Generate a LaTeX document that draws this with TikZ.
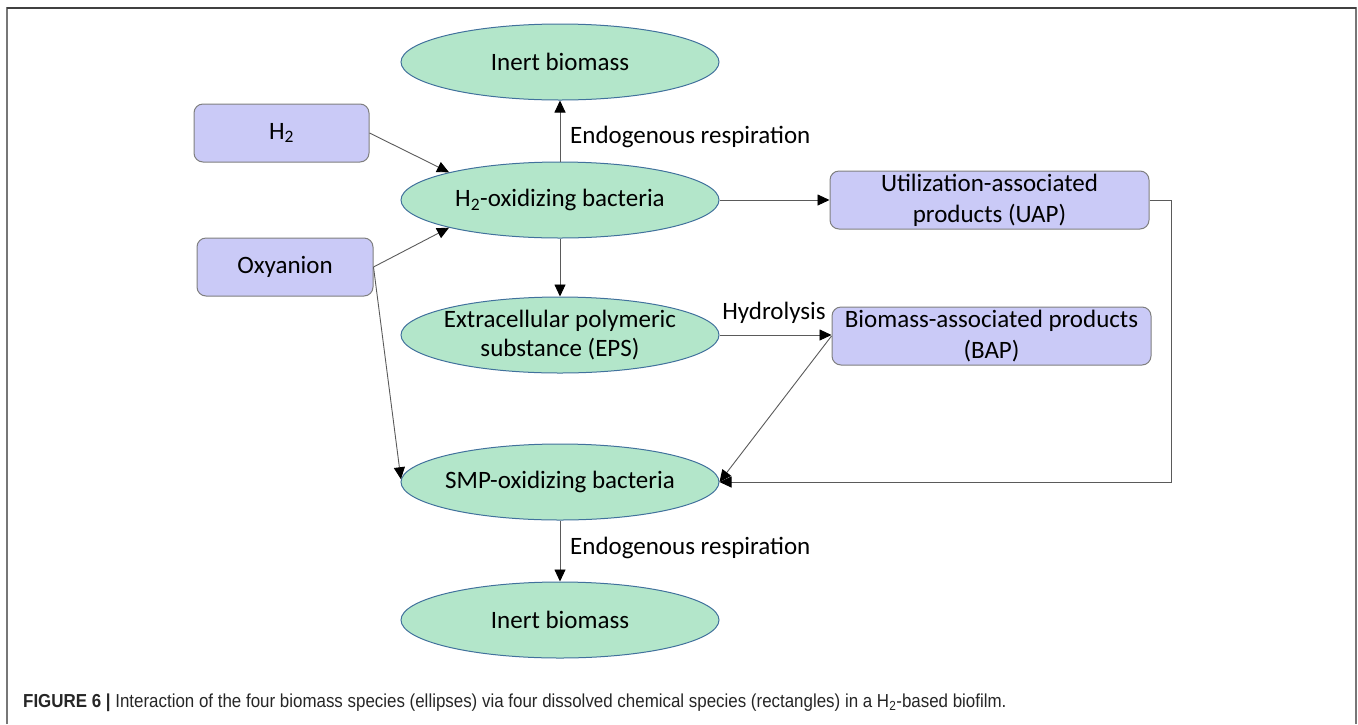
\documentclass[tikz,border=0pt]{standalone}
\usepackage{fontspec}
\setmainfont{Carlito}
\newfontfamily\capfont{Liberation Sans}[FakeStretch=0.9]
\usetikzlibrary{shapes.geometric,arrows.meta}
\definecolor{ellfill}{HTML}{B3E6CA}
\definecolor{elldraw}{HTML}{41719C}
\definecolor{boxfill}{HTML}{CACAF7}
\definecolor{boxdraw}{HTML}{7F7F7F}
\definecolor{linec}{HTML}{5A5A5A}
\definecolor{framec}{HTML}{777777}
\tikzset{
  bio/.style={ellipse, draw=elldraw, fill=ellfill, line width=1pt, minimum width=318pt, minimum height=76pt, inner xsep=-8pt, inner ysep=-8pt, align=center, font=\fontsize{25}{29}\selectfont},
  chem/.style={rectangle, rounded corners=9pt, draw=boxdraw, fill=boxfill, line width=1pt, minimum height=58pt, inner sep=0pt, align=center, font=\fontsize{25}{31}\selectfont},
  conn/.style={draw=linec, line width=0.9pt, -{Triangle[length=12pt,width=11pt,fill=black,color=black]}},
  lab/.style={font=\fontsize{25}{29}\selectfont, inner sep=0pt}
}
\begin{document}
\begin{tikzpicture}[x=1pt,y=-1pt]
\useasboundingbox (0,0) rectangle (1358,724);
% frame
\draw[framec, line width=1.5pt] (7,724) -- (7,8) -- (1356,8) -- (1356,724);
\draw[black!75, line width=1.2pt] (7,8) -- (1356,8);
% nodes
\node[bio] (inertTop) at (560,62) {Inert biomass};
\node[bio] (h2ox) at (560,200) {H\textsubscript{2}-oxidizing bacteria};
\node[bio] (eps) at (560,335) {Extracellular polymeric\\substance (EPS)};
\node[bio] (smp) at (560,482) {SMP-oxidizing bacteria};
\node[bio] (inertBot) at (560,620) {Inert biomass};
\node[chem, minimum width=175pt] (h2) at (281.5,133) {H\textsubscript{2}};
\node[chem, minimum width=176pt] (oxy) at (285,267) {Oxyanion};
\node[chem, minimum width=319pt] (uap) at (989.5,200) {Utilization-associated\\products (UAP)};
\node[chem, minimum width=319pt] (bap) at (991.5,336) {Biomass-associated products\\(BAP)};
% connectors
\draw[conn] (h2.east) -- (h2ox.166);
\draw[conn] (oxy.east) -- (h2ox.194);
\draw[conn] (oxy.east) -- (smp.179);
\draw[conn] (h2ox.north) -- (inertTop.south);
\draw[conn] (h2ox.east) -- (uap.west);
\draw[conn] (h2ox.south) -- (eps.north);
\draw[conn] (eps.east) -- (bap.west |- eps.east);
\draw[conn] (bap.west) -- (smp.east);
\draw[conn] (uap.east) -- ++(22,0) |- (smp.east);
\draw[conn] (smp.south) -- (inertBot.north);
% labels
\node[lab, anchor=west] (endoTop) at (570,137) {Endogenous respiration};
\node[lab] (hydro) at (774,313) {Hydrolysis};
\node[lab, anchor=west] (endoBot) at (570,548) {Endogenous respiration};
% caption
\node[anchor=west, inner sep=0pt, font=\capfont\fontsize{18.8}{20}\selectfont, text=black!85] (cap) at (23,703)
  {\textbf{FIGURE 6 |} Interaction of the four biomass species (ellipses) via four dissolved chemical species (rectangles) in a H\textsubscript{2}-based biofilm.};
\end{tikzpicture}
\end{document}
